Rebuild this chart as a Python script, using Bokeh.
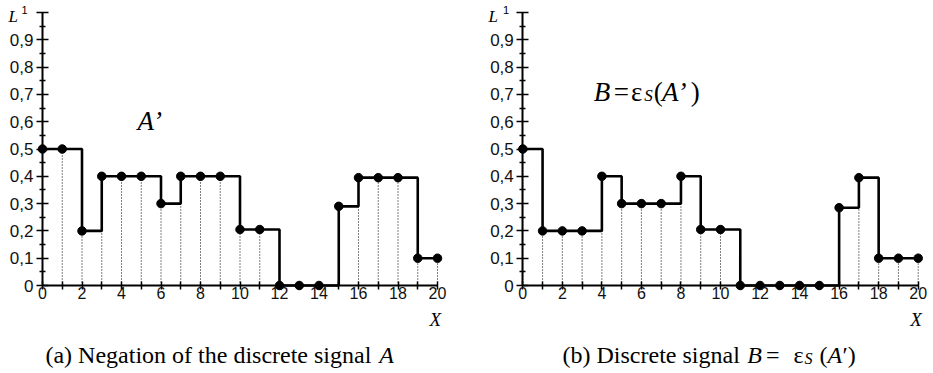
from bokeh.plotting import figure
from bokeh.layouts import row
from bokeh.models import FixedTicker, CustomJSTickFormatter, Label, ColumnDataSource
from bokeh.embed import file_html
from bokeh.resources import INLINE

# ---------------- data ----------------
x_vals = [0, 1, 2, 3, 4, 5, 6, 7, 8, 9, 10, 11, 12, 13, 14, 15, 16, 17, 18, 19, 20]
a_prime = [0.5, 0.5, 0.2, 0.4, 0.4, 0.4, 0.3, 0.4, 0.4, 0.4, 0.205, 0.205,
           0.0, 0.0, 0.0, 0.29, 0.395, 0.395, 0.395, 0.1, 0.1]
b_vals = [0.5, 0.2, 0.2, 0.2, 0.4, 0.3, 0.3, 0.3, 0.4, 0.205, 0.205, 0.0,
          0.0, 0.0, 0.0, 0.0, 0.285, 0.395, 0.1, 0.1, 0.1]
x_ticks = [0, 2, 4, 6, 8, 10, 12, 14, 16, 18, 20]
x_minor_ticks = [1, 3, 5, 7, 9, 11, 13, 15, 17, 19]
y_ticks = [0.0, 0.1, 0.2, 0.3, 0.4, 0.5, 0.6, 0.7, 0.8, 0.9, 1.0]
y_minor_ticks = [0.05, 0.15, 0.25, 0.35, 0.45, 0.55, 0.65, 0.75, 0.85, 0.95]
y_tick_labels = ["0", "0,1", "0,2", "0,3", "0,4", "0,5", "0,6", "0,7", "0,8", "0,9", ""]

SERIF = "Liberation Serif"
SANS = "Liberation Sans"
H = 373
DY = 6.0 / 273.0  # lift for text baselines


def make_panel(xs, ys, width, x0_px, x20_px):
    ppu = (x20_px - x0_px) / 20.0
    xr = (-x0_px / ppu, 20 + (width - x20_px) / ppu)
    y0_px, y1_px = 285.0, 12.0
    ppuy = y0_px - y1_px
    yr = (-(H - y0_px) / ppuy, 1 + y1_px / ppuy)
    p = figure(width=width, height=H, x_range=xr, y_range=yr,
               output_backend="svg", toolbar_location=None, min_border=0)
    p.outline_line_color = None
    p.grid.visible = False
    p.background_fill_color = "white"
    p.border_fill_color = "white"

    # axes
    xa = p.xaxis[0]
    xa.fixed_location = 0
    xa.bounds = (0, 20)
    xa.ticker = FixedTicker(ticks=x_ticks, minor_ticks=x_minor_ticks)
    xa.major_tick_in = 4
    xa.major_tick_out = 4
    xa.minor_tick_in = 4
    xa.minor_tick_out = 4
    xa.axis_line_width = 2
    xa.major_tick_line_width = 1.5
    xa.minor_tick_line_width = 1.5
    xa.major_label_text_font = SANS
    xa.major_label_text_font_size = "16px"
    xa.major_label_text_color = "#111111"
    xa.major_label_standoff = -3

    ya = p.yaxis[0]
    ya.fixed_location = 0
    ya.bounds = (0, 1)
    ya.ticker = FixedTicker(ticks=y_ticks, minor_ticks=y_minor_ticks)
    ya.formatter = CustomJSTickFormatter(args=dict(labels=y_tick_labels),
                                         code="return labels[Math.round(tick*10)];")
    ya.major_tick_in = 6
    ya.major_tick_out = 6
    ya.minor_tick_in = 3
    ya.minor_tick_out = 3
    ya.axis_line_width = 2
    ya.major_tick_line_width = 1.5
    ya.minor_tick_line_width = 1.5
    ya.major_label_text_font = SANS
    ya.major_label_text_font_size = "17px"
    ya.major_label_text_color = "#111111"
    ya.major_label_standoff = 3

    src = ColumnDataSource(dict(x=xs, y=ys, y0=[0] * len(xs)))
    p.segment(x0="x", y0="y0", x1="x", y1="y", source=src, line_color="black",
              line_width=1, line_dash="1 2")
    p.step(x="x", y="y", source=src, mode="after", line_color="black", line_width=2.6)
    p.scatter(x="x", y="y", source=src, size=8.5, color="black")

    # axis name
    put(p, 19.6, -0.147, "X", "19px", "italic")
    return p


def put(p, x, y, text, size, style="normal", dx=0):
    p.add_layout(Label(x=x, y=y + DY, x_offset=dx, text=text, text_font=SERIF,
                       text_font_style=style, text_font_size=size,
                       text_baseline="alphabetic", text_align="left", text_color="black"))


def sup_one(p, x):
    p.add_layout(Label(x=x, y=0.987 + DY, text="1", text_font=SANS, text_font_size="11px",
                       text_baseline="alphabetic", text_color="black"))


# ---------------- left panel ----------------
left = make_panel(x_vals, a_prime, 466, 42.0, 437.0)
put(left, -1.72, 0.963, "L", "17px", "italic")
sup_one(left, -1.06)
put(left, 4.81, 0.579, "A’", "27px", "italic")
put(left, 0.15, -0.276, "(a) Negation of the discrete signal", "24px")
put(left, 17.05, -0.276, "A", "24px", "italic")

# ---------------- right panel ----------------
right = make_panel(x_vals, b_vals, 467, 56.3, 451.7)
put(right, -1.735, 0.963, "L", "17px", "italic")
sup_one(right, -1.0)
# B=εS(A')
put(right, 3.59, 0.6886, "B", "27px", "italic")
put(right, 4.60, 0.6886, "=", "27px")
put(right, 5.47, 0.6886, "ε", "27px")
put(right, 6.14, 0.674, "S", "17px", "italic")
put(right, 6.62, 0.6886, "(", "27px")
put(right, 7.04, 0.6886, "A’", "27px", "italic")
put(right, 8.5, 0.6886, ")", "27px")
# caption (b)
put(right, 2.01, -0.276, "(b) Discrete signal", "24px")
put(right, 11.35, -0.276, "B", "24px", "italic")
put(right, 12.3, -0.276, "=", "24px")
put(right, 13.69, -0.276, "ε", "24px")
put(right, 13.69, -0.2906, "S", "16px", "italic", dx=11)
put(right, 13.69, -0.276, "(", "24px", dx=26)
put(right, 13.69, -0.276, "A", "24px", "italic", dx=34)
put(right, 13.69, -0.276, "′)", "24px", dx=49)

page = row(left, right)
open("out.html", "w").write(file_html(page, INLINE))
